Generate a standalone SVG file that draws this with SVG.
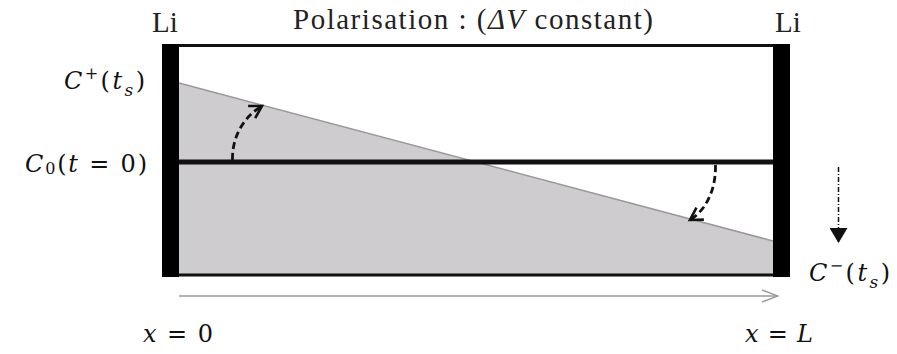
<svg xmlns="http://www.w3.org/2000/svg" width="897" height="354" viewBox="0 0 897 354">
<style>
.t{font-family:"Liberation Serif",serif;font-size:29px;fill:#222}
.m{font-family:"DejaVu Serif",serif;font-style:italic;font-size:24px;fill:#111}
.up{font-style:normal}
.sup{font-style:normal;font-size:16px}
.dash{fill:none;stroke:#111;stroke-width:2.8;stroke-dasharray:7,4}
</style>
<defs>
<marker id="open" viewBox="0 0 17 17" refX="14" refY="8.5" markerWidth="17" markerHeight="17" markerUnits="userSpaceOnUse" orient="auto">
<path d="M2,1.5 L14,8.5 L2,15.5" fill="none" stroke="#111" stroke-width="2.6"/>
</marker>
<marker id="grayopen" viewBox="0 0 18 14" refX="17" refY="7" markerWidth="18" markerHeight="14" markerUnits="userSpaceOnUse" orient="auto">
<path d="M1,1 L17,7 L1,13" fill="none" stroke="#999" stroke-width="1.4"/>
</marker>
<marker id="tri" viewBox="0 0 16 18" refX="15" refY="9" markerWidth="16" markerHeight="18" markerUnits="userSpaceOnUse" orient="auto">
<path d="M0,0 L15,9 L0,18 Z" fill="#111"/>
</marker>
</defs>
<g id="cell">
<polygon points="179,83 773,241 773,275 179,275" fill="#cfcccf"/>
<line x1="179" y1="83" x2="773" y2="241" stroke="#999" stroke-width="1.5"/>
<line x1="162" y1="45.5" x2="790" y2="45.5" stroke="#111" stroke-width="3"/>
<line x1="162" y1="275" x2="790" y2="275" stroke="#111" stroke-width="3"/>
<line x1="179" y1="162" x2="773" y2="162" stroke="#111" stroke-width="5"/>
<rect x="162" y="44" width="17" height="233" fill="#000"/>
<rect x="773" y="44" width="17" height="233" fill="#000"/>
</g>
<g id="connectors">
<path class="dash" d="M232.5,160 C232,135 245,116 262,106" marker-end="url(#open)"/>
<path class="dash" d="M715.5,165 C716,190 706,210 690,220" marker-end="url(#open)"/>
<line x1="838.5" y1="167" x2="838.5" y2="243" stroke="#111" stroke-width="1.5" stroke-dasharray="5,2,1,2" marker-end="url(#tri)"/>
<line x1="179" y1="296" x2="778" y2="296" stroke="#999" stroke-width="1.3" marker-end="url(#grayopen)"/>
</g>
<g id="labels">
<text class="t" x="152" y="32">Li</text>
<text class="t" x="775" y="32">Li</text>
<text class="t" x="293" y="29" textLength="360" lengthAdjust="spacing">Polarisation : (<tspan font-style="italic">ΔV</tspan> constant)</text>
<text class="m" x="64" y="89" textLength="81" lengthAdjust="spacing">C<tspan class="sup" dy="-10">+</tspan><tspan class="up" dy="10">(</tspan>t<tspan font-size="17" dy="7">s</tspan><tspan class="up" dy="-7">)</tspan></text>
<text class="m" x="25" y="172" textLength="122" lengthAdjust="spacing">C<tspan class="sup" dy="2">0</tspan><tspan class="up" dy="-2">(</tspan>t<tspan class="up"> = 0)</tspan></text>
<text class="m" x="809" y="281" textLength="81" lengthAdjust="spacing">C<tspan class="sup" dy="-10">−</tspan><tspan class="up" dy="10">(</tspan>t<tspan font-size="17" dy="7">s</tspan><tspan class="up" dy="-7">)</tspan></text>
<text class="m" x="143" y="342" textLength="70" lengthAdjust="spacing">x<tspan class="up"> = 0</tspan></text>
<text class="m" x="745" y="342" textLength="68" lengthAdjust="spacing">x<tspan class="up"> = </tspan>L</text>
</g>
</svg>
